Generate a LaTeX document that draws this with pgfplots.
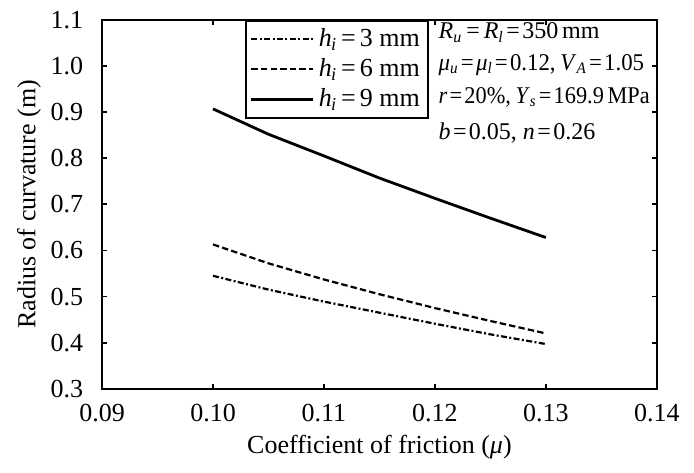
\documentclass[border=0pt]{standalone}
\usepackage{pgfplots}
\pgfplotsset{compat=1.18}
\usepackage{fontspec}
\setmainfont{Liberation Serif}
\newcommand{\hi}{\textit{h}\kern-0.3pt\textsubscript{\textit{i}}}
\newcommand{\fs}{\fontsize{13}{15}\selectfont}
\newcommand{\fa}{\fontsize{12}{14}\selectfont}
\newcommand{\eq}{\kern2pt=\kern2pt}
\newcommand{\eqs}{\kern1.2pt=\kern1.2pt}

\begin{document}
\begin{tikzpicture}
\begin{axis}[
  scale only axis, width=277.5pt, height=184.5pt,
  xmin=0.09, xmax=0.14, ymin=0.3, ymax=1.1,
  xtick={0.09,0.10,...,0.14}, ytick={0.3,0.4,...,1.1},
  xticklabel style={yshift=-4pt, /pgf/number format/fixed, /pgf/number format/fixed zerofill, /pgf/number format/precision=2},
  yticklabel style={xshift=-6pt, /pgf/number format/fixed, /pgf/number format/fixed zerofill, /pgf/number format/precision=1},
  /pgf/number format/assume math mode=true,
  tick label style={font=\fs},
  label style={font=\fs},
  xlabel={Coefficient of friction (\textit{μ})},
  ylabel={Radius of curvature (m)},
  ylabel style={yshift=-2pt},
  tick align=inside, major tick length=2.5pt,
  axis line style={line width=1pt}, every tick/.style={line width=0.9pt, black},
  clip=false,
  legend style={at={(0.258,1)}, anchor=north west, draw=black, line width=0.8pt,
    font=\fs, row sep=0.5pt, inner sep=2pt,
    cells={anchor=west},
    /tikz/every even column/.append style={column sep=5pt}},
  legend cell align=left,
  legend image code/.code={\draw[#1] (0pt,0pt) -- (31pt,0pt);},
]
\addplot[black, line width=1.1pt, dash pattern=on 3pt off 1.2pt on 1pt off 1.2pt] coordinates {
 (0.100,0.545)(0.105,0.515)(0.110,0.489)(0.115,0.465)(0.120,0.441)(0.125,0.418)(0.130,0.397)};
\addplot[black, line width=1.1pt, dash pattern=on 3.2pt off 1.6pt] coordinates {
 (0.100,0.613)(0.105,0.572)(0.110,0.537)(0.115,0.505)(0.120,0.475)(0.125,0.447)(0.130,0.420)};
\addplot[black, line width=1.4pt] coordinates {
 (0.100,0.907)(0.105,0.852)(0.110,0.805)(0.115,0.757)(0.120,0.713)(0.125,0.670)(0.130,0.628)};
\legend{\hi\eq 3 mm, \hi\eq 6 mm, \hi\eq 9 mm}
\node[anchor=west, font=\fa, inner sep=0pt] at (rel axis cs:0.606,0.965)
  {\textit{R}\textsubscript{\textit{u}}\eq\textit{R}\textsubscript{\textit{l}}\eqs 350\,mm};
\node[anchor=west, font=\fa, inner sep=0pt] at (rel axis cs:0.606,0.878)
  {\scalebox{0.95}[1]{\textit{μ}\textsubscript{\textit{u}}\eqs\textit{μ}\textsubscript{\textit{l}}\eqs 0.12,\kern2.5pt\textit{V}\textsubscript{\textit{A}}\eqs 1.05}};
\node[anchor=west, font=\fa, inner sep=0pt] at (rel axis cs:0.606,0.791)
  {\scalebox{0.93}[1]{\textit{r}\eqs 20\%,\kern2.5pt\textit{Y}\textsubscript{\textit{s}}\eqs 169.9\,MPa}};
\node[anchor=west, font=\fa, inner sep=0pt] at (rel axis cs:0.606,0.694)
  {\textit{b}\eqs 0.05, \textit{n}\eqs 0.26};
\path (rel axis cs:-0.184,-0.227) (rel axis cs:1.067,1.054);
\end{axis}
\end{tikzpicture}
\end{document}
